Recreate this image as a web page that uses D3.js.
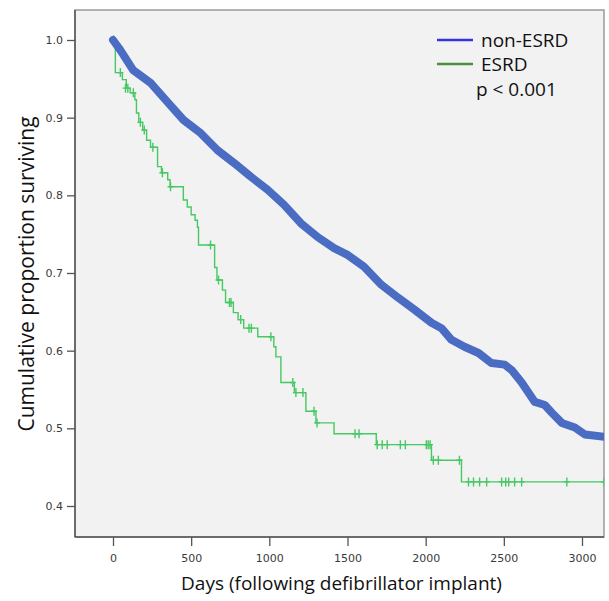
<!DOCTYPE html>
<html>
<head>
<meta charset="utf-8">
<script src="https://cdn.jsdelivr.net/npm/d3@7"></script>
<style>
    body { margin: 0; background: #fff; }
    #chart { width: 609px; height: 601px; }
    .tick text { font-family: "DejaVu Sans", sans-serif; font-size: 11px; fill: #3a3a3a; }
    .axis--label { font-family: "Open Sans", sans-serif; font-size: 19px; fill: #111; text-anchor: middle; }
    .legend--label { font-family: "Open Sans", sans-serif; font-size: 19px; fill: #111; }
</style>
</head>
<body>
<div id="chart"></div>
<script>

// tick values
const xTicks = [0, 500, 1000, 1500, 2000, 2500, 3000];
const yTicks = [0.4, 0.5, 0.6, 0.7, 0.8, 0.9, 1.0];

// series names
const groups = ["non-ESRD", "ESRD"];

// non-ESRD curve (day, proportion surviving)
const nonEsrd = [
    [0,1.0],[47,0.987],[130,0.961],[239,0.945],[349,0.920],[451,0.897],[561,0.880],
    [669,0.858],[772,0.842],[881,0.824],[990,0.807],[1093,0.788],[1202,0.764],
    [1311,0.746],[1414,0.732],[1503,0.723],[1606,0.708],[1716,0.685],[1825,0.668],
    [1927,0.653],[2037,0.636],[2101,0.629],[2165,0.614],[2248,0.605],[2338,0.597],
    [2421,0.584],[2505,0.582],[2550,0.575],[2614,0.559],[2698,0.534],[2762,0.530],
    [2807,0.520],[2871,0.507],[2954,0.501],[3019,0.492],[3150,0.489]
];

// ESRD step curve (day the step starts, level after it)
const esrdSteps = [
    [0,1.000],[15,0.958],[60,0.949],[85,0.938],[110,0.932],[140,0.923],[150,0.906],
    [165,0.894],[190,0.884],[215,0.871],[240,0.862],[285,0.837],[310,0.829],[350,0.820],
    [365,0.811],[450,0.794],[475,0.785],[500,0.775],[525,0.768],[540,0.759],[547,0.736],
    [650,0.707],[665,0.691],[700,0.678],[720,0.662],[770,0.649],[800,0.640],[836,0.629],
    [926,0.618],[1029,0.605],[1042,0.592],[1074,0.559],[1160,0.546],[1234,0.522],
    [1298,0.507],[1414,0.493],[1684,0.479],[2037,0.459],[2229,0.431],[3160,0.431]
];

// ESRD censored cases
const esrdCensored = [
    [5,1.0],[47,0.958],[80,0.938],[95,0.938],[130,0.932],[175,0.894],[200,0.884],
    [255,0.862],[316,0.829],[368,0.811],[624,0.736],[675,0.691],[745,0.662],[755,0.662],
    [817,0.640],[870,0.629],[885,0.629],[1010,0.618],[1150,0.559],[1170,0.546],[1215,0.546],
    [1286,0.522],[1305,0.507],[1548,0.493],[1574,0.493],[1690,0.479],[1722,0.479],
    [1754,0.479],[1838,0.479],[1870,0.479],[2004,0.479],[2016,0.479],[2028,0.479],
    [2049,0.459],[2081,0.459],[2216,0.459],[2274,0.431],[2306,0.431],[2345,0.431],
    [2390,0.431],[2486,0.431],[2512,0.431],[2531,0.431],[2569,0.431],[2614,0.431],
    [2903,0.431],[3140,0.431]
];

const width = 609;
const height = 601;
const box = {left: 75, top: 10, right: 604, bottom: 537};

const svg = d3.select("#chart")
    .append("svg")
    .attr("width", width)
    .attr("height", height);

/*
SCALES
*/
const xScale = d3.scaleLinear()
    .domain([0, 3000])
    .range([113, 582]);

const yScale = d3.scaleLinear()
    .domain([0.4, 1.0])
    .range([506, 40]);

const colorScale = d3.scaleOrdinal()
    .domain(groups)
    .range(["#4a6cc3", "#46c862"]);

const legendColor = d3.scaleOrdinal()
    .domain(groups)
    .range(["#3535e6", "#4a8f3c"]);

/*
PLOT BACKGROUND
*/
svg.append("rect")
    .attr("x", box.left)
    .attr("y", box.top)
    .attr("width", box.right - box.left)
    .attr("height", box.bottom - box.top)
    .attr("fill", "#f2f2f2")
    .attr("stroke", "#9a9a9a")
    .attr("stroke-width", 1.5);

svg.append("clipPath")
    .attr("id", "clip")
    .append("rect")
    .attr("x", box.left)
    .attr("y", box.top)
    .attr("width", box.right - box.left)
    .attr("height", box.bottom - box.top);

/*
AXES
*/
const xAxis = svg.append("g")
    .attr("class", "axis")
    .attr("transform", `translate(0,${box.bottom})`)
    .call(d3.axisBottom(xScale).tickValues(xTicks).tickSize(9).tickPadding(8).tickFormat(d3.format("d")));

const yAxis = svg.append("g")
    .attr("class", "axis")
    .attr("transform", `translate(${box.left},0)`)
    .call(d3.axisLeft(yScale).tickValues(yTicks).tickSize(8).tickPadding(4).tickFormat(d3.format(".1f")));

svg.selectAll(".axis .domain").remove();
svg.selectAll(".axis .tick line").attr("stroke", "#555").attr("stroke-width", 1.3);

// darker left and bottom frame lines
svg.append("line")
    .attr("x1", box.left).attr("x2", box.left)
    .attr("y1", box.top).attr("y2", box.bottom)
    .attr("stroke", "#555").attr("stroke-width", 1.5);

svg.append("line")
    .attr("x1", box.left).attr("x2", box.right)
    .attr("y1", box.bottom).attr("y2", box.bottom)
    .attr("stroke", "#555").attr("stroke-width", 1.5);

/*
CURVES
*/
const plot = svg.append("g").attr("clip-path", "url(#clip)");

const smoothLine = d3.line()
    .x(function(d) { return xScale(d[0]); })
    .y(function(d) { return yScale(d[1]); });

const stepLine = d3.line()
    .curve(d3.curveStepAfter)
    .x(function(d) { return xScale(d[0]); })
    .y(function(d) { return yScale(d[1]); });

plot.append("path")
    .datum(esrdSteps)
    .attr("d", stepLine)
    .attr("fill", "none")
    .attr("stroke", colorScale("ESRD"))
    .attr("stroke-width", 1.4);

plot.selectAll(".censor")
    .data(esrdCensored)
    .enter()
    .append("path")
        .attr("class", "censor")
        .attr("d", function(d) {
            let cx = xScale(d[0]);
            let cy = yScale(d[1]);
            return `M${cx},${cy-4.5}V${cy+4.5}M${cx-3},${cy}H${cx+3}`;
        })
        .attr("stroke", colorScale("ESRD"))
        .attr("stroke-width", 1.4)
        .attr("fill", "none");

plot.append("path")
    .datum(nonEsrd)
    .attr("d", smoothLine)
    .attr("fill", "none")
    .attr("stroke", colorScale("non-ESRD"))
    .attr("stroke-width", 8)
    .attr("stroke-linecap", "round")
    .attr("stroke-linejoin", "round");

/*
AXIS LABELS
*/
svg.append("text")
    .attr("class", "axis--label")
    .attr("x", (box.left + box.right) / 2 + 2)
    .attr("y", 590)
    .text("Days (following defibrillator implant)");

svg.append("text")
    .attr("class", "axis--label")
    .attr("transform", "rotate(-90)")
    .attr("x", -274)
    .attr("y", 34)
    .style("font-size", "21px")
    .text("Cumulative proportion surviving");

/*
LEGEND
*/
groups.forEach(function(g, i) {
    svg.append("line")
        .attr("x1", 437).attr("x2", 473)
        .attr("y1", 40 + i * 24).attr("y2", 40 + i * 24)
        .attr("stroke", legendColor(g))
        .attr("stroke-width", 2.5);

    svg.append("text")
        .attr("class", "legend--label")
        .attr("x", 481)
        .attr("y", 40 + i * 24)
        .attr("dy", "0.35em")
        .text(g);
});

svg.append("text")
    .attr("class", "legend--label")
    .attr("x", 476)
    .attr("y", 89)
    .attr("dy", "0.35em")
    .text("p < 0.001");

</script>
</body>
</html>
